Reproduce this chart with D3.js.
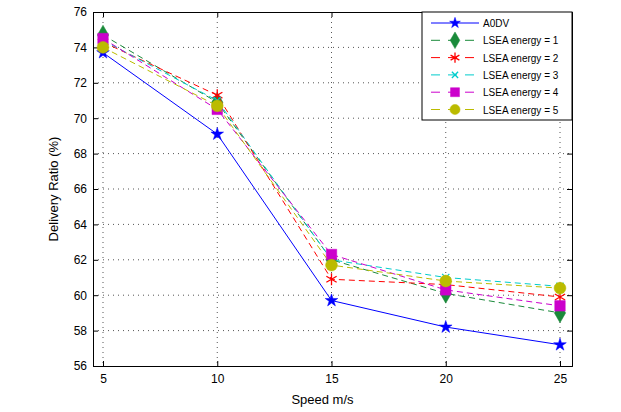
<html>
<head>
<script src="https://d3js.org/d3.v7.min.js"></script>
<style>
body { margin: 0; background: #fff; }
text { font-family: "Liberation Sans", Arial, sans-serif; }
</style>
</head>
<body>
<div id="chart"></div>
<script>
var speeds = [5, 10, 15, 20, 25];
var names = ["A0DV", "LSEA energy = 1", "LSEA energy = 2", "LSEA energy = 3", "LSEA energy = 4", "LSEA energy = 5"];
var aodv = [73.7, 69.1, 59.7, 58.2, 57.2];
var energy1 = [74.7, 70.9, 62.0, 60.1, 59.0];
var energy2 = [74.3, 71.3, 60.9, 60.6, 59.9];
var energy3 = [74.4, 71.0, 62.0, 61.0, 60.5];
var energy4 = [74.5, 70.5, 62.3, 60.3, 59.4];
var energy5 = [74.0, 70.7, 61.7, 60.8, 60.4];
var yTicks = [56, 58, 60, 62, 64, 66, 68, 70, 72, 74, 76];

var series = [
  {name: names[0], vals: aodv, color: "#0000ff", dash: null, mark: "star"},
  {name: names[1], vals: energy1, color: "#1a8a3a", dash: "6,4", mark: "diamond"},
  {name: names[2], vals: energy2, color: "#ff0000", dash: "6,4", mark: "asterisk"},
  {name: names[3], vals: energy3, color: "#00cccc", dash: "6,4", mark: "x"},
  {name: names[4], vals: energy4, color: "#cc00cc", dash: "6,4", mark: "square"},
  {name: names[5], vals: energy5, color: "#bbbb00", dash: "6,4", mark: "circle"}
];

var W = 621, H = 412, L = 93, R = 572, T = 12, B = 366;
var svg = d3.select("#chart").append("svg").attr("width", W).attr("height", H);
var x = d3.scaleLinear().range([L, R]);
x.domain([5 - (103 - L) / ((560 - 103) / 20), 25 + (R - 560) / ((560 - 103) / 20)]);
var y = d3.scaleLinear().domain([56, 76]).range([B, T]);

// grid
svg.selectAll(".gy").data(yTicks.slice(1, -1)).enter().append("line")
  .attr("x1", L).attr("x2", R).attr("y1", d => y(d)).attr("y2", d => y(d))
  .attr("stroke", "#555").attr("stroke-dasharray", "1,4");
svg.selectAll(".gx").data(speeds).enter().append("line")
  .attr("x1", d => x(d)).attr("x2", d => x(d)).attr("y1", T).attr("y2", B)
  .attr("stroke", "#555").attr("stroke-dasharray", "1,4");

svg.append("g").attr("transform", "translate(0," + B + ")")
  .call(d3.axisBottom(x).tickValues(speeds).tickSize(-5).tickPadding(8));
svg.append("g").attr("transform", "translate(" + L + ",0)")
  .call(d3.axisLeft(y).tickValues(yTicks).tickSize(-5).tickPadding(6));
svg.append("g").attr("transform", "translate(0," + T + ")")
  .call(d3.axisTop(x).tickValues(speeds).tickSize(-5).tickFormat(""));
svg.append("g").attr("transform", "translate(" + R + ",0)")
  .call(d3.axisRight(y).tickValues(yTicks).tickSize(-5).tickFormat(""));
svg.selectAll(".domain").attr("stroke", "#000");
svg.selectAll(".tick text").attr("font-size", 12).attr("fill", "#000");
svg.selectAll(".tick line").attr("stroke", "#000");

svg.append("text").attr("x", (L + R) / 2 - 10).attr("y", 404).attr("text-anchor", "middle")
  .attr("font-size", 13).text("Speed m/s");
svg.append("text").attr("transform", "translate(58," + (T + B) / 2 + ") rotate(-90)")
  .attr("text-anchor", "middle").attr("font-size", 13).text("Delivery Ratio (%)");

function marker(g, s, cx, cy, sz) {
  var sym = {star: d3.symbolStar, diamond: d3.symbolDiamond, asterisk: d3.symbolAsterisk,
    x: d3.symbolX, square: d3.symbolSquare, circle: d3.symbolCircle}[s.mark];
  var stroke = (s.mark === "asterisk" || s.mark === "x");
  if (s.mark === "star") sz = sz * 0.45;
  g.append("path").attr("d", d3.symbol().type(sym).size(stroke ? sz * 0.9 : sz)())
    .attr("transform", "translate(" + cx + "," + cy + ")")
    .attr("fill", stroke ? "none" : s.color).attr("stroke", s.color).attr("stroke-width", stroke ? 1.3 : 0.5);
}

var line = d3.line().x((d, i) => x(speeds[i])).y(d => y(d));
series.forEach(function(s) {
  svg.append("path").datum(s.vals).attr("d", line).attr("fill", "none")
    .attr("stroke", s.color).attr("stroke-width", 1).attr("stroke-dasharray", s.dash);
  s.vals.forEach(function(v, i) { marker(svg, s, x(speeds[i]), y(v), s.mark === "x" ? 40 : 110); });
});

// legend
var lg = svg.append("g");
lg.append("rect").attr("x", 422).attr("y", T).attr("width", R - 422).attr("height", 108)
  .attr("fill", "#fff").attr("stroke", "#000");
series.forEach(function(s, i) {
  var ly = 23 + i * 17.3;
  lg.append("line").attr("x1", 431).attr("x2", 479).attr("y1", ly).attr("y2", ly)
    .attr("stroke", s.color).attr("stroke-dasharray", s.dash ? "9,8" : null);
  marker(lg, s, 455, ly, s.mark === "x" ? 30 : 80);
  lg.append("text").attr("x", 483).attr("y", ly + 4).attr("font-size", 10).text(s.name);
});
</script>
</body>
</html>
